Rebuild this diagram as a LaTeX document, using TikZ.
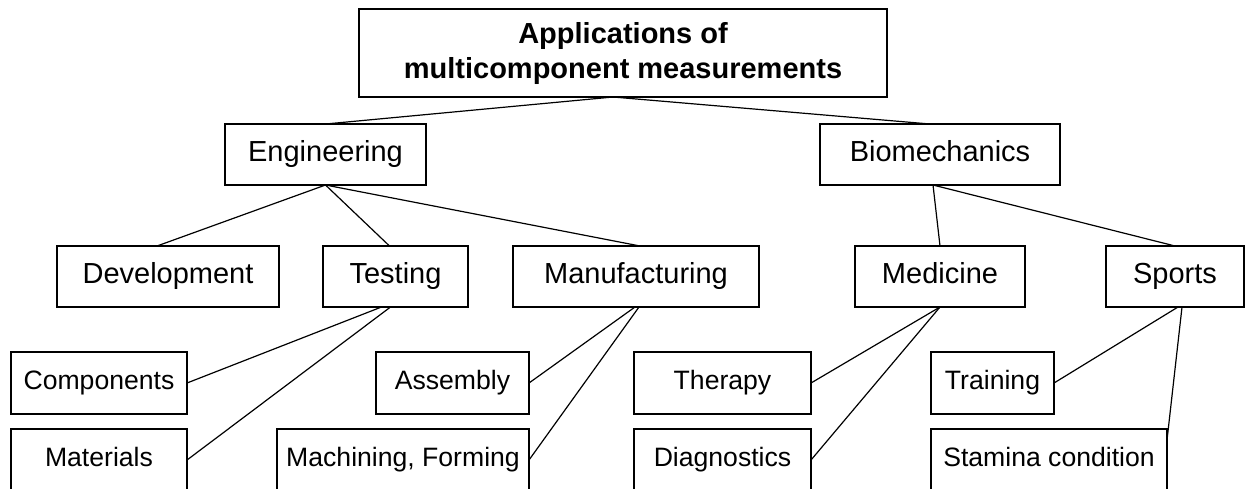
\documentclass[tikz,border=0pt]{standalone}
\usepackage{fontspec}
\setmainfont{Liberation Sans}
\usetikzlibrary{positioning}

\begin{document}
\begin{tikzpicture}[
    box/.style={rectangle, draw, line width=0.8pt, inner sep=0pt, outer sep=0pt, minimum height=30.5pt, font=\fontsize{14.5}{17.5}\selectfont},
    item/.style={box, text height=10.5pt, text depth=4pt},
    leaf/.style={item, minimum height=31pt, font=\fontsize{13.3}{16}\selectfont},
    link/.style={line width=0.6pt}
]

\useasboundingbox (0,0) rectangle (622.5pt,-244pt);
\clip (0,0) rectangle (622.5pt,-244pt);

\node[box, minimum width=264pt, minimum height=44pt, align=center, font=\fontsize{14.5}{17.5}\selectfont\bfseries] (app) at (311.5pt,-26.5pt) {Applications of\\multicomponent measurements};

\node[item, minimum width=100.5pt, below left=13.5pt and -33.5pt of app] (eng) {Engineering};
\node[item, minimum width=120pt, below right=13.5pt and -33.5pt of app] (bio) {Biomechanics};

\node[item, minimum width=111pt, below left=30.5pt and -27pt of eng] (dev) {Development};
\node[item, minimum width=72.5pt, right=22pt of dev] (test) {Testing};
\node[item, minimum width=123pt, right=22.5pt of test] (manu) {Manufacturing};
\node[item, minimum width=85pt, below=30.5pt of bio] (med) {Medicine};
\node[item, minimum width=69pt, right=40.5pt of med] (sports) {Sports};

\node[leaf, minimum width=88pt, below left=22.5pt and -65pt of dev] (comp) {Components};
\node[leaf, minimum width=88pt, below=7.5pt of comp] (mat) {Materials};
\node[leaf, minimum width=76.5pt, right=94.5pt of comp] (asm) {Assembly};
\node[leaf, minimum width=126pt, below left=7.5pt and -76.5pt of asm] (mach) {Machining, Forming};
\node[leaf, minimum width=88.5pt, right=52.5pt of asm] (ther) {Therapy};
\node[leaf, minimum width=88.5pt, below=7.5pt of ther] (diag) {Diagnostics};
\node[leaf, minimum width=61.5pt, right=60pt of ther] (train) {Training};
\node[leaf, minimum width=118pt, below right=7.5pt and -61.5pt of train] (stam) {Stamina condition};

\coordinate (app-b) at ([xshift=-5pt]app.south);
\coordinate (bio-b) at ([xshift=-3.5pt]bio.south);

\draw[link] (app-b) -- (eng.north);
\draw[link] (app-b) -- ([xshift=-5pt]bio.north);

\draw[link] (eng.south) -- ([xshift=-5.5pt]dev.north);
\draw[link] (eng.south) -- ([xshift=-3pt]test.north);
\draw[link] (eng.south) -- ([xshift=2pt]manu.north);
\draw[link] (bio-b) -- (med.north);
\draw[link] (bio-b) -- (sports.north);

\draw[link] ([xshift=-7pt]test.south) -- (comp.east);
\draw[link] ([xshift=-2.5pt]test.south) -- (mat.east);
\draw[link] ([xshift=-0.5pt]manu.south) -- (asm.east);
\draw[link] ([xshift=1.5pt]manu.south) -- (mach.east);
\draw[link] (med.south) -- (ther.east);
\draw[link] (med.south) -- (diag.east);
\draw[link] ([xshift=1.5pt]sports.south) -- (train.east);
\draw[link] ([xshift=3.5pt]sports.south) -- ([yshift=-5.5pt]stam.north east);

\end{tikzpicture}
\end{document}
